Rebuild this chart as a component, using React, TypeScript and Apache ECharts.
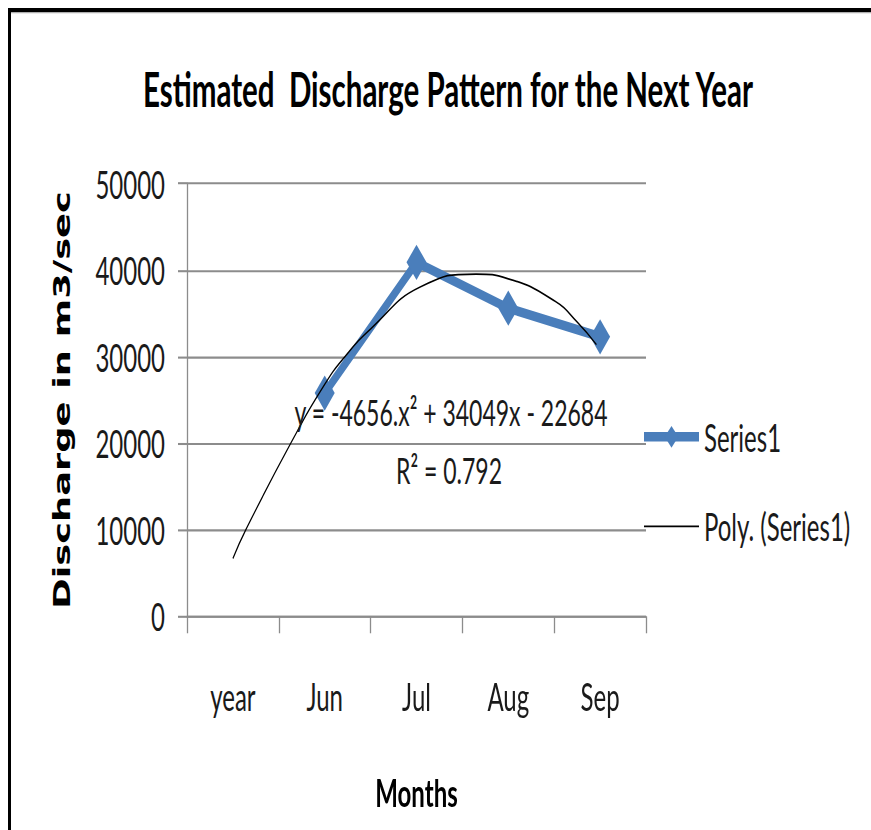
import React, { useEffect, useRef } from 'react';
import * as echarts from 'echarts';

// ---- data ----
const categories = ['year', 'Jun', 'Jul', 'Aug', 'Sep'];
const series1Values = [null, 25800, 40900, 35600, 32300];
// polynomial trendline, points (x = category position, 0 = "year")
const polyTrendX = [0, 0.14, 0.63, 1.0, 1.22, 1.5, 2.04, 2.65, 3.0, 3.51, 3.75, 3.96];
const polyTrendY = [6700, 10000, 20000, 26800, 30000, 33200, 38050, 39550, 39000, 36400, 34000, 31400];
const yMin = 0;
const yMax = 50000;
const yInterval = 10000;
const titleText = 'Estimated  Discharge Pattern for the Next Year';
const xAxisTitle = 'Months';
const yAxisTitle = 'Discharge in m3/sec';
const equationText = 'y = -4656.x² + 34049x - 22684';
const r2Text = 'R² = 0.792';
const seriesNames = ['Series1', 'Poly. (Series1)'];

// ---- layout (the reference picture is stretched vertically) ----
const STRETCH = 1.6;
const W = 863;
const H = 822 / STRETCH;
const FONT = 'Lato, "Open Sans", sans-serif';
const BLUE = '#4A7EBB';
const GRID_GRAY = '#8C8C8C';
const TEXT = '#1a1a1a';

export default function App() {
  const ref = useRef<HTMLDivElement>(null);

  useEffect(() => {
    if (!ref.current) return;
    const chart = echarts.init(ref.current, undefined, { renderer: 'svg', width: W, height: H });
    const gridLeft = 179;
    const gridTop = 109.7;
    const gridWidth = 459;
    const gridHeight = 270.6;
    const trendData = polyTrendX.map((x, i) => [x, polyTrendY[i]]);

    chart.setOption({
      animation: false,
      backgroundColor: '#ffffff',
      title: {
        text: titleText,
        left: 435,
        top: 30,
        textAlign: 'center',
        textStyle: { fontFamily: FONT, fontWeight: 'bold', fontSize: 29.5, color: '#000' },
      },
      grid: { left: gridLeft, top: gridTop, width: gridWidth, height: gridHeight, containLabel: false },
      legend: {
        orient: 'vertical',
        left: 628,
        top: 251,
        itemWidth: 55,
        itemHeight: 17,
        itemGap: 32,
        data: [
          { name: seriesNames[0], lineStyle: { width: 6, color: BLUE } },
          {
            name: seriesNames[1],
            itemStyle: { color: 'rgba(0,0,0,0)', borderColor: 'rgba(0,0,0,0)', borderWidth: 0 },
            lineStyle: { width: 1.2, color: '#000' },
          },
        ],
        textStyle: { fontFamily: FONT, fontSize: 24, color: TEXT, lineHeight: 24 },
      },
      xAxis: [
        {
          type: 'category',
          data: categories,
          boundaryGap: true,
          name: xAxisTitle,
          nameLocation: 'middle',
          nameGap: 98,
          nameTextStyle: { fontFamily: FONT, fontWeight: 'bold', fontSize: 24, color: '#000', verticalAlign: 'top' },
          axisLine: { show: true, onZero: false, lineStyle: { color: GRID_GRAY, width: 1.3 } },
          axisTick: { show: true, length: 10.5, lineStyle: { color: GRID_GRAY, width: 1.3 } },
          axisLabel: { fontFamily: FONT, fontSize: 24, color: TEXT, margin: 38 },
          splitLine: { show: false },
        },
        {
          type: 'value',
          min: -0.5,
          max: 4.5,
          show: false,
          position: 'bottom',
          axisLine: { show: false, onZero: false },
          splitLine: { show: false },
        },
      ],
      yAxis: {
        type: 'value',
        min: yMin,
        max: yMax,
        interval: yInterval,
        name: yAxisTitle,
        nameLocation: 'middle',
        nameGap: 113,
        nameRotate: 90,
        nameTextStyle: { fontFamily: '"DejaVu Sans", Verdana, sans-serif', fontWeight: 'bold', fontSize: 23, color: '#000' },
        axisLine: { show: true, onZero: false, lineStyle: { color: GRID_GRAY, width: 1.3 } },
        axisTick: { show: true, length: 9, lineStyle: { color: GRID_GRAY, width: 1.3 } },
        axisLabel: { fontFamily: FONT, fontSize: 24, color: TEXT, margin: 22, formatter: (v: number) => String(v) },
        splitLine: { show: true, lineStyle: { color: GRID_GRAY, width: 1.3 } },
      },
      series: [
        {
          name: seriesNames[0],
          type: 'line',
          xAxisIndex: 0,
          data: series1Values,
          symbol: 'diamond',
          symbolSize: [20, 22],
          itemStyle: { color: BLUE },
          lineStyle: { color: BLUE, width: 6 },
          z: 2,
        },
        {
          name: seriesNames[1],
          type: 'line',
          xAxisIndex: 1,
          data: trendData,
          smooth: 0.5,
          symbol: 'none',
          itemStyle: { color: '#000' },
          lineStyle: { color: '#000', width: 1.1 },
          z: 3,
        },
      ],
      graphic: [
        { type: 'rect', shape: { x: 0, y: 0, width: W, height: 2.6 }, style: { fill: '#000' }, silent: true },
        { type: 'rect', shape: { x: 0, y: 2.6, width: W, height: 0.7 }, style: { fill: '#aaaaaa' }, silent: true },
        { type: 'rect', shape: { x: 0, y: 0, width: 3, height: H }, style: { fill: '#000' }, silent: true },
        {
          type: 'text',
          x: 451 - 8,
          y: (412 - 8) / STRETCH,
          z: 10,
          style: { text: equationText, fontFamily: FONT, fontSize: 23, fill: TEXT, textAlign: 'center', textVerticalAlign: 'middle' },
        },
        {
          type: 'text',
          x: 449 - 8,
          y: (470 - 8) / STRETCH,
          z: 10,
          style: { text: r2Text, fontFamily: FONT, fontSize: 23, fill: TEXT, textAlign: 'center', textVerticalAlign: 'middle' },
        },
      ],
    });

    return () => chart.dispose();
  }, []);

  return (
    <div style={{ position: 'fixed', left: 8, top: 8, width: W, height: 822, overflow: 'hidden', background: '#fff' }}>
      <div
        ref={ref}
        style={{ width: W, height: H, transform: `scaleY(${STRETCH})`, transformOrigin: '0 0' }}
      />
    </div>
  );
}
